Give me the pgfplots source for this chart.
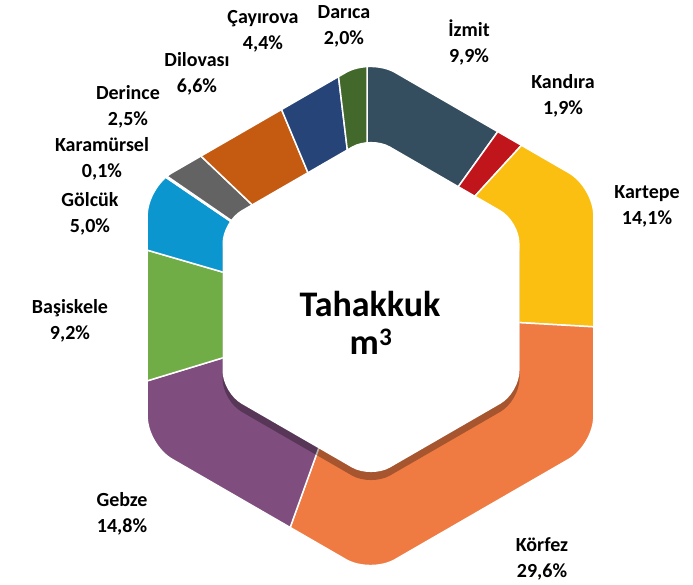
\documentclass[border=0pt]{standalone}
\usepackage{fontspec}
\setmainfont{Carlito}
\usepackage{pgfplots}
\usepgfplotslibrary{polar}
\pgfplotsset{compat=1.18}
\definecolor{cIzmit}{HTML}{344D5F}
\definecolor{cKandira}{HTML}{C0161B}
\definecolor{cKartepe}{HTML}{FBBF12}
\definecolor{cKorfez}{HTML}{EF7B43}
\definecolor{cGebze}{HTML}{7F4E7E}
\definecolor{cBasiskele}{HTML}{70AD47}
\definecolor{cGolcuk}{HTML}{0C96CF}
\definecolor{cKaramursel}{HTML}{A5A5A5}
\definecolor{cDerince}{HTML}{636363}
\definecolor{cDilovasi}{HTML}{C55A11}
\definecolor{cCayirova}{HTML}{264478}
\definecolor{cDarica}{HTML}{43682B}
\newcommand{\lblfont}{\fontsize{20}{24}\selectfont\bfseries}
\newcommand{\lbl}[4]{%
  \node[font=\lblfont, anchor=base] at (axis cs:#1,#2) {#3};
  \node[font=\lblfont, anchor=base] at (axis cs:#1,#2-25.5) {#4};}
\begin{document}
\begin{tikzpicture}
\begin{axis}[name=ax, x=1pt, y=1pt, xmin=-367, xmax=326, ymin=-271, ymax=314,
  hide axis, clip=false]
% slices: angles (deg, counter-clockwise from east), clockwise from 12 o'clock
\addplot[data cs=polar, fill=cIzmit, draw=white, line width=1.5pt] coordinates {(0,0) (90,290) (72,290) (54.36,290) (0,0)};
\addplot[data cs=polar, fill=cKandira, draw=white, line width=1.5pt] coordinates {(0,0) (54.36,290) (47.52,290) (0,0)};
\addplot[data cs=polar, fill=cKartepe, draw=white, line width=1.5pt] coordinates {(0,0) (47.52,290) (30,290) (12,290) (-3.24,290) (0,0)};
\addplot[data cs=polar, fill=cKorfez, draw=white, line width=1.5pt] coordinates {(0,0) (-3.24,290) (-25,290) (-50,290) (-75,290) (-95,290) (-109.8,290) (0,0)};
\addplot[data cs=polar, fill=cGebze, draw=white, line width=1.5pt] coordinates {(0,0) (-109.8,290) (-128,290) (-146,290) (-163.08,290) (0,0)};
\addplot[data cs=polar, fill=cBasiskele, draw=white, line width=1.5pt] coordinates {(0,0) (-163.08,290) (-180,290) (-196.2,290) (0,0)};
\addplot[data cs=polar, fill=cGolcuk, draw=white, line width=1.5pt] coordinates {(0,0) (-196.2,290) (-214.2,290) (0,0)};
\addplot[data cs=polar, fill=cKaramursel, draw=white, line width=1.5pt] coordinates {(0,0) (-214.2,290) (-214.56,290) (0,0)};
\addplot[data cs=polar, fill=cDerince, draw=white, line width=1.5pt] coordinates {(0,0) (-214.56,290) (-223.56,290) (0,0)};
\addplot[data cs=polar, fill=cDilovasi, draw=white, line width=1.5pt] coordinates {(0,0) (-223.56,290) (-247.32,290) (0,0)};
\addplot[data cs=polar, fill=cCayirova, draw=white, line width=1.5pt] coordinates {(0,0) (-247.32,290) (-263.16,290) (0,0)};
\addplot[data cs=polar, fill=cDarica, draw=white, line width=1.5pt] coordinates {(0,0) (-263.16,290) (-270,290) (0,0)};
% white mask outside the outer hexagon
\fill[white, even odd rule] (axis cs:-420,-340) rectangle (axis cs:380,360)
  [rounded corners=28pt] (axis cs:226.1,-2) -- (axis cs:226.1,-130.5) -- (axis cs:3.5,-259) -- (axis cs:-219.1,-130.5) -- (axis cs:-219.1,126.5) -- (axis cs:3.5,255) -- (axis cs:226.1,126.5) -- cycle;
% shadow of the inner hexagon
\fill[black, opacity=0.3, rounded corners=22pt] (axis cs:152.5,-1) -- (axis cs:152.5,-86.75) -- (axis cs:4,-172.5) -- (axis cs:-144.5,-86.75) -- (axis cs:-144.5,84.75) -- (axis cs:4,170.5) -- (axis cs:152.5,84.75) -- cycle;
% inner hexagon
\fill[white, rounded corners=22pt] (axis cs:152.5,7) -- (axis cs:152.5,-78.75) -- (axis cs:4,-164.5) -- (axis cs:-144.5,-78.75) -- (axis cs:-144.5,92.75) -- (axis cs:4,178.5) -- (axis cs:152.5,92.75) -- cycle;
% centre title
\node[font=\fontsize{36}{38}\selectfont\bfseries, anchor=base] at (axis cs:3,-3) {Tahakkuk};
\node[font=\fontsize{36}{38}\selectfont\bfseries, anchor=base] at (axis cs:4,-41) {m\textsuperscript{3}};
% labels
\lbl{-104}{290}{Çayırova}{4,4\%}
\lbl{-23}{295}{Darıca}{2,0\%}
\lbl{102}{277}{İzmit}{9,9\%}
\lbl{196}{225}{Kandıra}{1,9\%}
\lbl{280}{115}{Kartepe}{14,1\%}
\lbl{175}{-238}{Körfez}{29,6\%}
\lbl{-245}{-193}{Gebze}{14,8\%}
\lbl{-297}{0}{Başiskele}{9,2\%}
\lbl{-277}{107}{Gölcük}{5,0\%}
\lbl{-265}{162}{Karamürsel}{0,1\%}
\lbl{-239}{214}{Derince}{2,5\%}
\lbl{-170}{247}{Dilovası}{6,6\%}
\end{axis}
\pgfresetboundingbox
\path[use as bounding box] (ax.south west) rectangle (ax.north east);
\end{tikzpicture}
\end{document}
